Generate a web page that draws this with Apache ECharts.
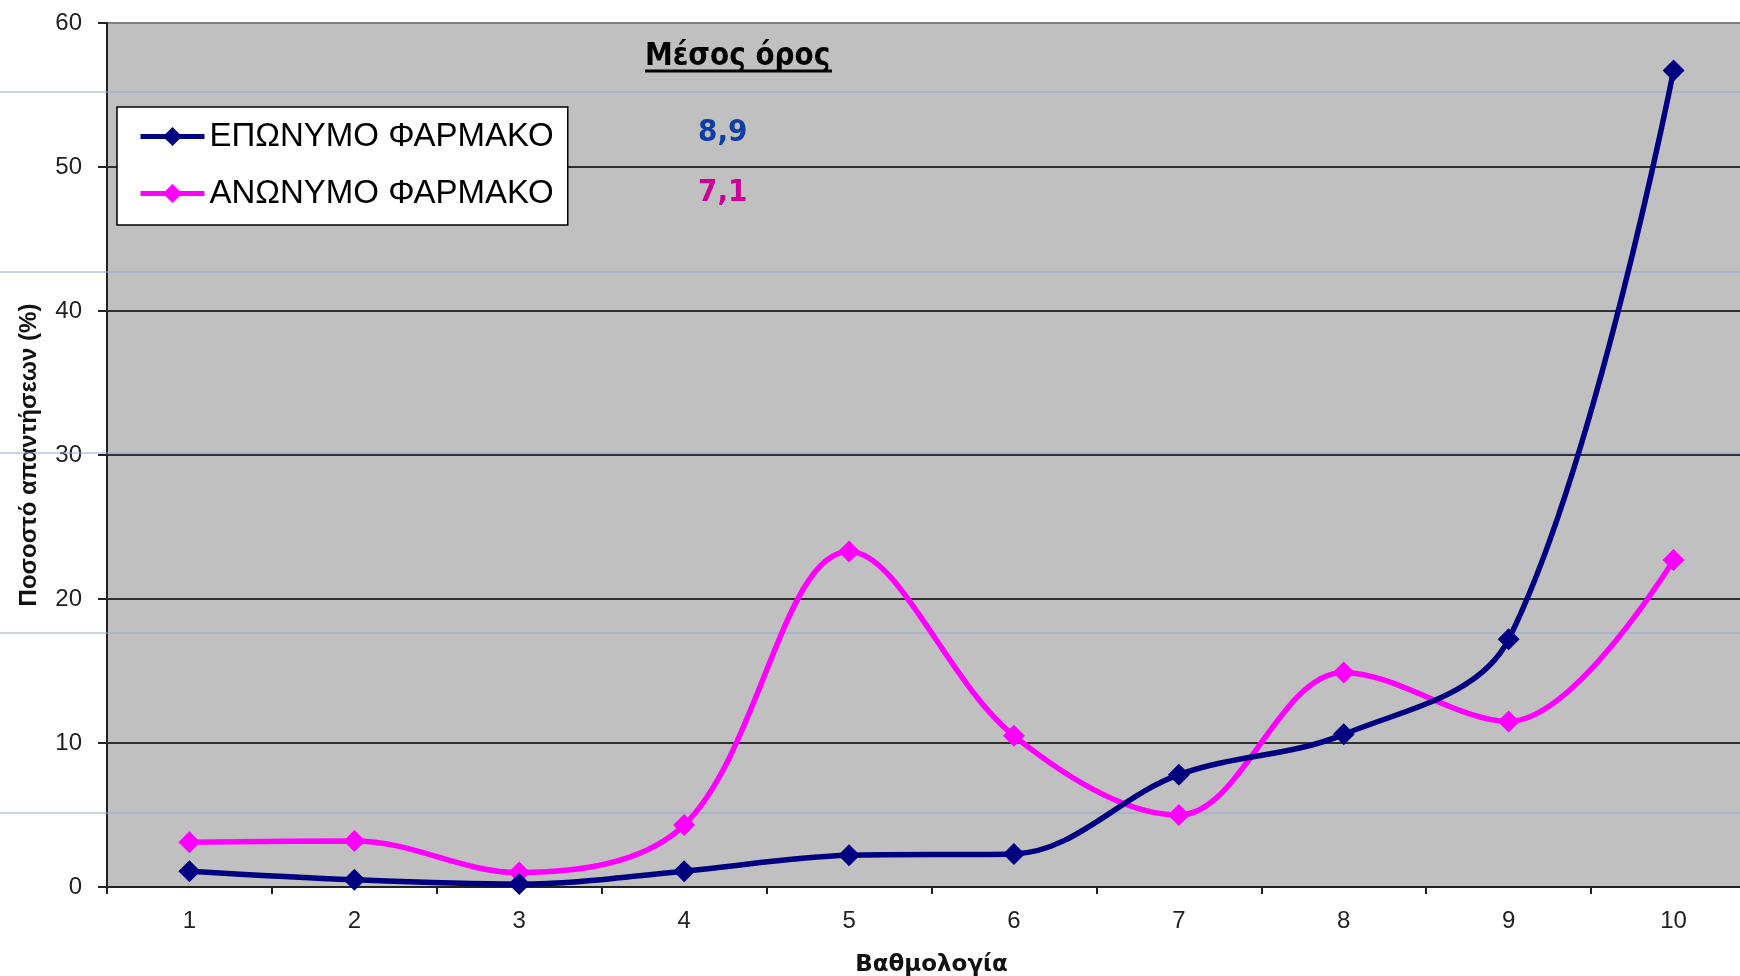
<!DOCTYPE html>
<html>
<head>
<meta charset="utf-8">
<script src="https://cdn.jsdelivr.net/npm/echarts@6/dist/echarts.min.js"></script>
<style>
html,body{margin:0;padding:0;background:#fff;}
#chart{width:1740px;height:976px;}
</style>
</head>
<body>
<div id="chart"></div>
<script>
const categories = ['1','2','3','4','5','6','7','8','9','10'];
const brandName = 'ΕΠΩΝΥΜΟ ΦΑΡΜΑΚΟ';
const genericName = 'ΑΝΩΝΥΜΟ ΦΑΡΜΑΚΟ';
const brandValues = [1.1, 0.5, 0.2, 1.1, 2.2, 2.3, 7.8, 10.6, 17.2, 56.7];
const genericValues = [3.1, 3.2, 1.0, 4.3, 23.3, 10.5, 5.0, 14.9, 11.5, 22.7];
const meanTitle = 'Μέσος όρος';
const brandMean = '8,9';
const genericMean = '7,1';
const yAxisName = 'Ποσοστό απαντήσεων (%)';
const xAxisName = 'Βαθμολογία';

const chart = echarts.init(document.getElementById('chart'));
const guideYs = [92, 272, 453, 633, 813];
const guides = guideYs.map(y => ({
  type: 'line', z: 1, silent: true,
  shape: {x1: 0, y1: y, x2: 1740, y2: y},
  style: {stroke: '#93A8D8', lineWidth: 1}
}));

chart.setOption({
  backgroundColor: '#ffffff',
  animation: false,
  grid: {
    left: 107, top: 23, right: -16, bottom: 89,
    outerBoundsMode: 'none',
    containLabel: false,
    show: true, backgroundColor: '#C0C0C0', borderColor: '#808080', borderWidth: 2
  },
  legend: {
    orient: 'vertical',
    left: 117, top: 107,
    backgroundColor: '#ffffff',
    borderColor: '#000000', borderWidth: 1.5,
    padding: [13, 14, 15, 21],
    itemGap: 24,
    itemWidth: 64, itemHeight: 24,
    itemTextGap: 6,
    lineStyle: {width: 5},
    textStyle: {fontFamily: 'Liberation Sans', fontSize: 33, color: '#000'},
    data: [brandName, genericName]
  },
  xAxis: {
    type: 'category',
    data: categories,
    boundaryGap: true,
    name: xAxisName,
    nameLocation: 'middle',
    nameGap: 67,
    nameTextStyle: {fontFamily: 'DejaVu Sans', fontWeight: 'bold', fontSize: 23, color: '#111'},
    axisLine: {lineStyle: {color: '#222', width: 2}},
    axisTick: {show: true, interval: 0, length: 7, lineStyle: {color: '#222', width: 2}},
    axisLabel: {interval: 0, margin: 22, fontFamily: 'Liberation Sans', fontSize: 24, color: '#222'},
    splitLine: {show: false}
  },
  yAxis: {
    type: 'value',
    min: 0, max: 60, interval: 10,
    name: yAxisName,
    nameLocation: 'middle',
    nameGap: 66,
    nameTextStyle: {fontFamily: 'Liberation Sans', fontWeight: 'bold', fontSize: 24, color: '#111'},
    axisLine: {show: true, lineStyle: {color: '#222', width: 2}},
    axisTick: {show: true, length: 9, lineStyle: {color: '#222', width: 2}},
    axisLabel: {margin: 25, fontFamily: 'Liberation Sans', fontSize: 24, color: '#222'},
    splitLine: {show: true, showMinLine: false, showMaxLine: false, lineStyle: {color: '#000', width: 1.5}}
  },
  series: [
    {
      name: brandName, type: 'line', data: brandValues,
      smooth: 0.35, symbol: 'diamond', symbolSize: 22,
      lineStyle: {color: '#000080', width: 5.5},
      itemStyle: {color: '#000080'}, z: 3
    },
    {
      name: genericName, type: 'line', data: genericValues,
      smooth: 0.35, symbol: 'diamond', symbolSize: 22,
      lineStyle: {color: '#FF00FF', width: 5.5},
      itemStyle: {color: '#FF00FF'}, z: 2
    }
  ],
  graphic: guides.concat([
    {type: 'text', z: 10, x: 645, y: 57, style: {
      text: meanTitle, fill: '#000', font: 'bold 31px "DejaVu Sans Condensed", "DejaVu Sans"',
      textVerticalAlign: 'middle'}},
    {type: 'line', z: 10, shape: {x1: 645, y1: 71, x2: 832, y2: 71}, style: {stroke: '#000', lineWidth: 3}},
    {type: 'text', z: 10, x: 698, y: 133, style: {
      text: brandMean, fill: '#0F3DA3', font: 'bold 31px "DejaVu Sans Condensed", "DejaVu Sans"',
      textVerticalAlign: 'middle'}},
    {type: 'text', z: 10, x: 698, y: 193, style: {
      text: genericMean, fill: '#CC0099', font: 'bold 31px "DejaVu Sans Condensed", "DejaVu Sans"',
      textVerticalAlign: 'middle'}}
  ])
});
</script>
</body>
</html>
